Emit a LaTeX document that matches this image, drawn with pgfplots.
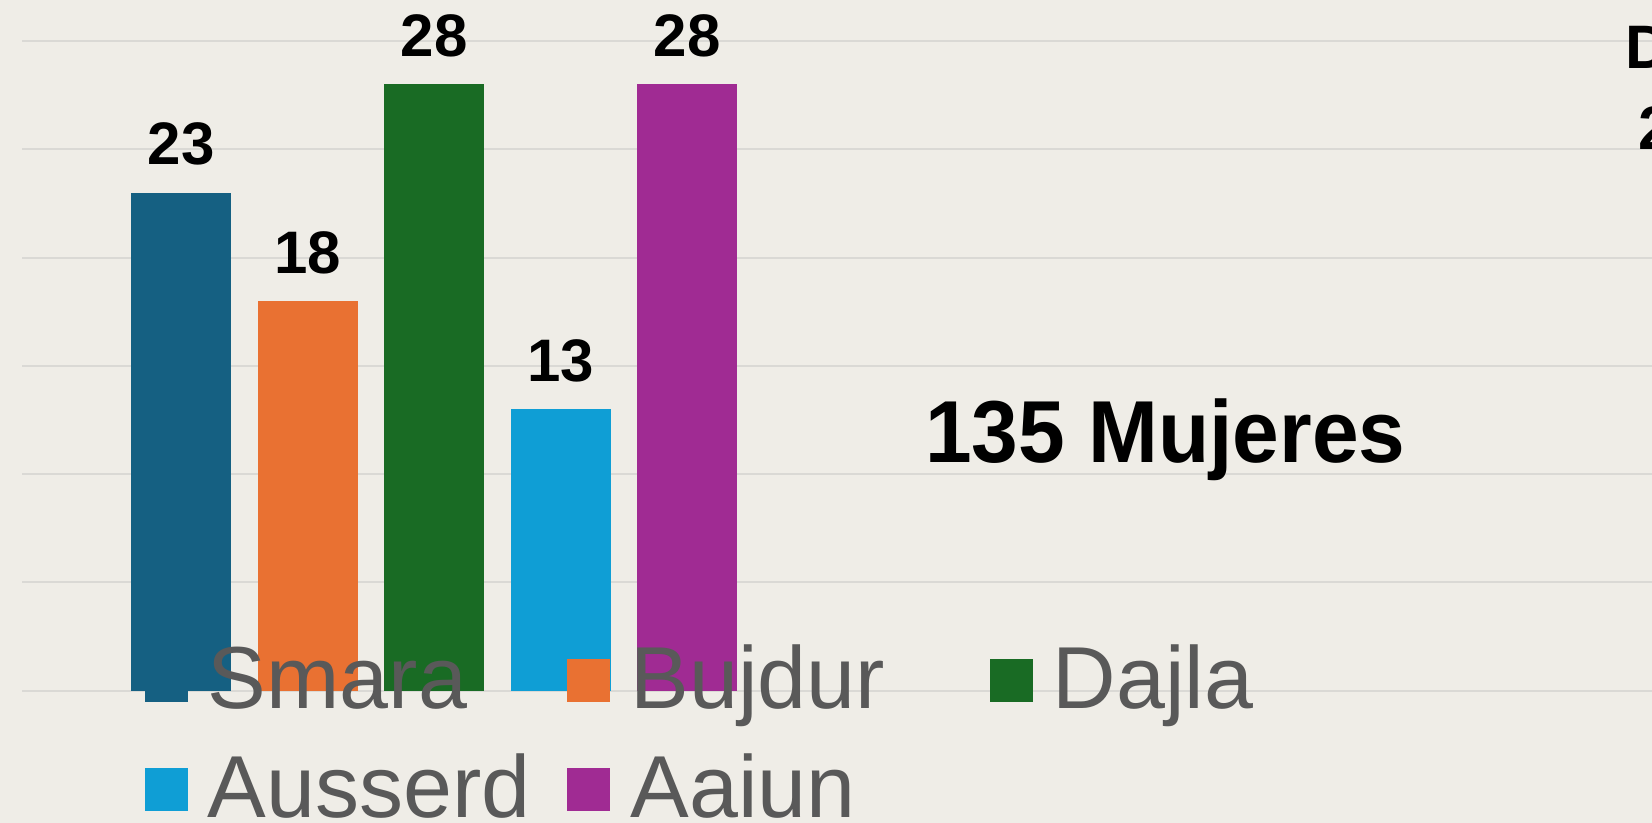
\documentclass[border=0pt]{standalone}
\usepackage{fontspec}
\setmainfont{Liberation Sans}
\usepackage{graphicx}
\usepackage{pgfplots}
\pgfplotsset{compat=1.18}
\definecolor{bg}{HTML}{EFEDE7}
\definecolor{gridc}{HTML}{DAD9D5}
\definecolor{leggray}{HTML}{595959}
\definecolor{c1}{HTML}{156082}
\definecolor{c2}{HTML}{E97132}
\definecolor{c3}{HTML}{196B24}
\definecolor{c4}{HTML}{0F9ED5}
\definecolor{c5}{HTML}{A02B93}
\newcommand{\lent}[2]{\makebox[211.25pt][l]{\textcolor{#1}{\rule[3pt]{21.5pt}{21.5pt}}\hspace{10pt}#2\rule[-15pt]{0pt}{55pt}}}
\pgfplotsset{
  mybar/.style={ybar, bar width=50pt, bar shift=0pt, draw=none, fill=#1,
    legend image code/.code={},
    every node near coord/.append style={anchor=base, yshift=13.9pt, inner sep=0pt,
      font=\fontsize{30}{36}\selectfont\bfseries, text=black}},
}
\begin{document}
\begin{tikzpicture}
\path[use as bounding box] (0,0) rectangle (826pt,411.5pt);
\fill[bg] (0,0) rectangle (826pt,411.5pt);
\clip (0,0) rectangle (826pt,411.5pt);
\begin{axis}[
  at={(11pt,66.15pt)}, anchor=south west,
  scale only axis, width=900pt, height=324.85pt,
  xmin=-1.257, xmax=12.97, ymin=0, ymax=30,
  clip=false,
  /pgf/number format/assume math mode=true,
  axis line style={draw=none}, tick style={draw=none},
  xtick=\empty, ytick={0,5,...,30}, yticklabels={},
  ymajorgrids, grid style={draw=gridc, line width=1pt},
  nodes near coords,
  legend columns=3,
  legend entries={\lent{c1}{Smara},\lent{c2}{Bujdur},\lent{c3}{Dajla},\lent{c4}{Ausserd},\lent{c5}{Aaiun}},
  legend style={draw=none, fill=none, inner sep=0pt, outer sep=0pt,
    column sep=0pt, row sep=13pt,
    at={(0.06833,0.0965)}, anchor=north west,
    cells={anchor=base west}, nodes={inner sep=0pt},
    font=\fontsize{44}{50}\selectfont, text=leggray},
]
\addplot[mybar=c1] coordinates {(0,23)};
\addplot[mybar=c2] coordinates {(1,18)};
\addplot[mybar=c3] coordinates {(2,28)};
\addplot[mybar=c4] coordinates {(3,13)};
\addplot[mybar=c5] coordinates {(4,28)};
\node[anchor=base, inner sep=0pt, font=\fontsize{44}{50}\selectfont\bfseries] at (axis cs:7.78,10.53) {\scalebox{0.953}[1]{135 Mujeres}};
\end{axis}
\node[anchor=base west, inner sep=0pt, font=\fontsize{30.7}{36}\selectfont\bfseries] at (812.3pt,377pt) {D};
\node[anchor=base west, inner sep=0pt, font=\fontsize{30.7}{36}\selectfont\bfseries] at (819pt,336.5pt) {2};
\end{tikzpicture}
\end{document}
